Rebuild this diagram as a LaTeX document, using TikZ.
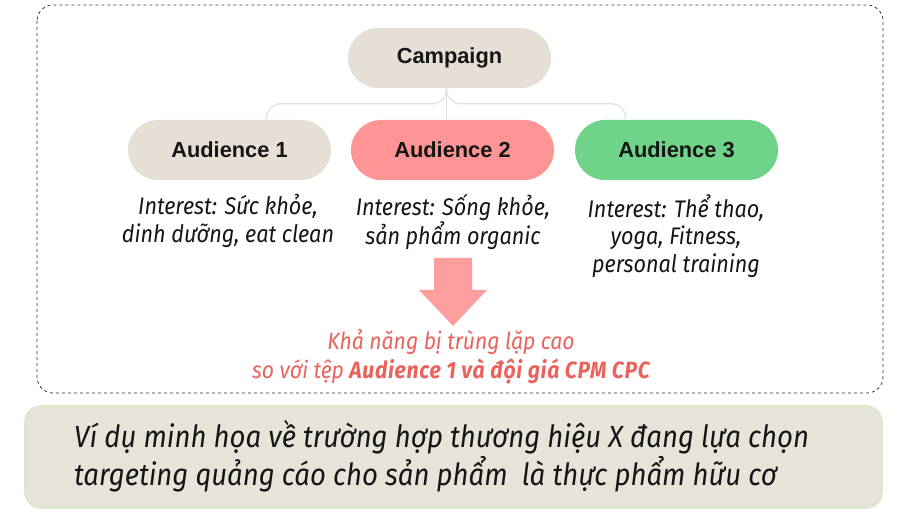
\documentclass[tikz,border=0pt]{standalone}
\usepackage{fontspec}
\setmainfont{Fira Sans}
\newfontfamily\condfont{Fira Sans}[FakeStretch=0.9]
\newfontfamily\condwide{Fira Sans}[FakeStretch=0.9, LetterSpace=3]
\newfontfamily\headfont{Liberation Sans}
\usetikzlibrary{calc}
\definecolor{beige}{HTML}{E6DFD5}
\definecolor{pinkbox}{HTML}{FF9494}
\definecolor{greenbox}{HTML}{6FD48A}
\definecolor{arrowc}{HTML}{FF9E9E}
\definecolor{redtext}{HTML}{E9625C}
\definecolor{notefill}{HTML}{E7E3D9}
\definecolor{noteline}{HTML}{D7EBC4}
\definecolor{connc}{HTML}{E3E3E3}
\definecolor{ink}{HTML}{151515}
\tikzset{
  pill/.style={minimum width=203pt, minimum height=60pt, rounded corners=30pt, inner sep=0pt,
    font=\headfont\bfseries\fontsize{21.8}{24}\selectfont, text=ink},
  conn/.style={draw=connc, line width=1.4pt},
  interest/.style={align=center, font=\condfont\itshape\fontsize{24}{27.5}\selectfont, text=ink, inner sep=0pt},
}
\begin{document}
\begin{tikzpicture}[x=1pt,y=-1pt]
\useasboundingbox (0,0) rectangle (915,518);
% outer dashed frame
\draw[dashed, line width=0.8pt, rounded corners=16pt, draw=black!80] (37,5) rectangle (883,393);
% nodes
\node[pill, fill=beige] (camp) at (449.5,58) {Campaign};
\node[pill, fill=beige] (a1) at (229.5,150) {Audience 1};
\node[pill, fill=pinkbox] (a2) at (452.5,150) {Audience 2};
\node[pill, fill=greenbox] (a3) at (676.5,150) {Audience 3};
% connectors
\draw[conn] ([xshift=-3pt]camp.south) -- ([xshift=-6pt]a2.north);
\draw[conn, rounded corners=14pt] ([xshift=-3pt]camp.south) |- ([yshift=16pt,xshift=37pt]a1.north) -- ([xshift=37pt]a1.north);
\draw[conn, rounded corners=14pt] ([xshift=-3pt]camp.south) |- ([yshift=16pt,xshift=-51pt]a3.north) -- ([xshift=-51pt]a3.north);
% interest texts
\node[interest, anchor=north] (i1) at (228,194) {Interest: Sức khỏe,\\dinh dưỡng, eat clean};
\node[interest, anchor=north] (i2) at (453,194) {Interest: Sống khỏe,\\sản phẩm organic};
\node[interest, anchor=north] (i3) at (676,194) {Interest: Thể thao,\\yoga, Fitness,\\personal training};
% down arrow
\coordinate (ar) at (453,258);
\fill[arrowc] ($(ar)+(-19,0)$) -- ($(ar)+(19,0)$) -- ($(ar)+(19,32)$) -- ($(ar)+(34,32)$)
  -- ($(ar)+(0,68)$) -- ($(ar)+(-34,32)$) -- ($(ar)+(-19,32)$) -- cycle;
% red text
\node[align=center, text=redtext, font=\condfont\itshape\fontsize{23.5}{29}\selectfont, inner sep=0pt] (warn) at (451,357)
  {Khả năng bị trùng lặp cao\\so với tệp {\condwide\bfseries Audience 1 và đội giá CPM CPC}};
% bottom note
\draw[fill=notefill, draw=noteline, line width=1.6pt, rounded corners=16pt] (25,406) rectangle (882,508);
\node[anchor=west, align=left, text=ink, font=\condfont\itshape\fontsize{30.6}{38}\selectfont, inner sep=0pt] (note) at (74,456)
  {Ví dụ minh họa về trường hợp thương hiệu X đang lựa chọn\\targeting quảng cáo cho sản phẩm\ \ là thực phẩm hữu cơ};
\end{tikzpicture}
\end{document}
